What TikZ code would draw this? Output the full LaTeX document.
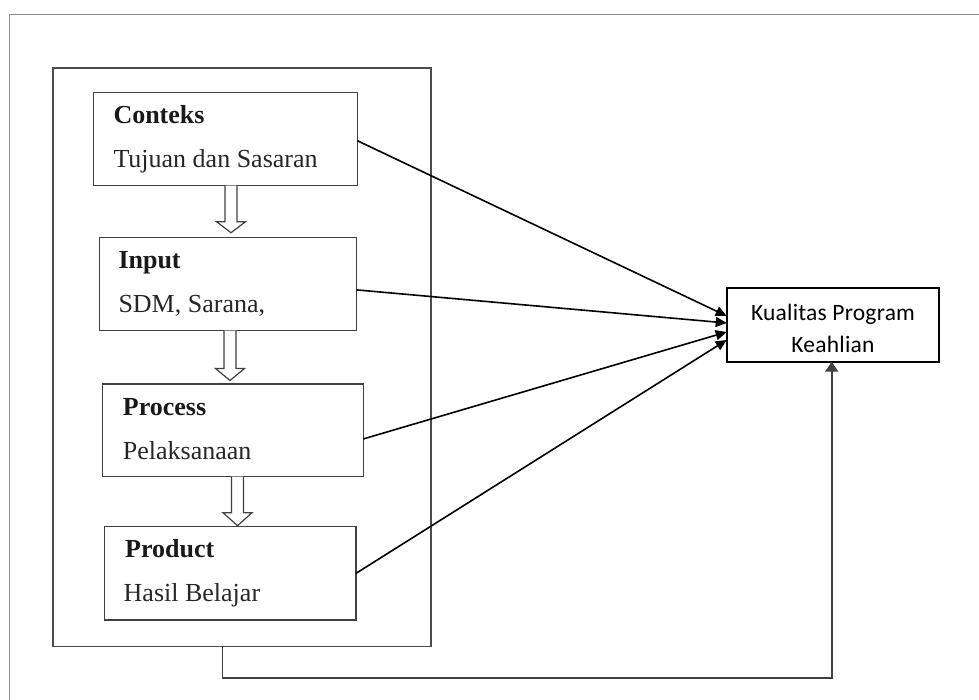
\documentclass[tikz,border=0pt]{standalone}
\usepackage{fontspec}
\setmainfont{Liberation Serif}
\newfontfamily\carlito{Carlito}[LetterSpace=1]
\usetikzlibrary{arrows.meta,calc}
\begin{document}
\begin{tikzpicture}[x=1pt,y=-1pt,
  frame/.style={draw=black!45, line width=1.3pt},
  bigbox/.style={draw=black!70, line width=1.6pt, rectangle, inner sep=0pt, outer sep=0pt, anchor=north west},
  stagebox/.style={draw=black!75, line width=1.5pt, rectangle, inner sep=0pt, outer sep=0pt, anchor=north west},
  kbox/.style={draw=black, line width=1.8pt, rectangle, inner sep=0pt, outer sep=0pt, anchor=north west},
  klabel/.style={inner sep=0pt, align=center, font=\carlito\fontsize{23.5}{32}\selectfont},
  ttl/.style={anchor=base west, inner sep=0pt, text=black!90, font=\fontsize{26}{30}\selectfont\bfseries},
  sub/.style={anchor=base west, inner sep=0pt, text=black!85, font=\fontsize{26}{30}\selectfont},
  hollow/.style={draw=black!75, line width=1.2pt, fill=white, line join=miter},
  conn/.style={draw=black, line width=1.6pt, -{Triangle[length=11pt,width=10pt]}},
  fb/.style={draw=black!75, line width=1.6pt, -{Triangle[length=10pt,width=13pt]}}
]
\useasboundingbox (0,0) rectangle (979,700);
% outer frame (partly outside the picture)
\draw[frame] (979,14.5) -- (9.3,14.5) -- (9.3,700);

% big box
\node[bigbox, minimum width=378.3pt, minimum height=578.2pt] (big) at (52.7,68.3) {};

% stage boxes
\node[stagebox, minimum width=264pt, minimum height=93.4pt] (con) at (93.3,92.3) {};
\node[stagebox, minimum width=257.4pt, minimum height=93.2pt] (inp) at (99.3,237.3) {};
\node[stagebox, minimum width=260.6pt, minimum height=92.7pt] (pro) at (102.7,384) {};
\node[stagebox, minimum width=251.5pt, minimum height=93.3pt] (prd) at (104.5,526.7) {};

% texts
\node[ttl] (conT) at ([xshift=20pt,yshift=-31pt]con.north west) {Conteks};
\node[sub] (conS) at ([xshift=20pt,yshift=-75pt]con.north west) {Tujuan dan Sasaran};
\node[ttl] (inpT) at ([xshift=19pt,yshift=-31pt]inp.north west) {Input};
\node[sub] (inpS) at ([xshift=19pt,yshift=-75pt]inp.north west) {SDM, Sarana,};
\node[ttl] (proT) at ([xshift=20pt,yshift=-31pt]pro.north west) {Process};
\node[sub] (proS) at ([xshift=20pt,yshift=-75pt]pro.north west) {Pelaksanaan};
\node[ttl] (prdT) at ([xshift=20.5pt,yshift=-31pt]prd.north west) {Product};
\node[sub] (prdS) at ([xshift=19pt,yshift=-75pt]prd.north west) {Hasil Belajar};

% result box
\node[kbox, minimum width=212.6pt, minimum height=73.4pt] (kual) at (726.7,288.3) {};
\node[klabel] (kualT) at ([yshift=-3pt]kual.center) {Kualitas Program\\Keahlian};

% hollow arrows between stages
\draw[hollow] ([xshift=5.7pt]con.south) ++(-6,0) -- ++(0,36) -- ++(-8.5,0) -- ++(14.5,11) -- ++(14.5,-11) -- ++(-8.5,0) -- ++(0,-36);
\draw[hollow] ([xshift=2pt]inp.south) ++(-6,0) -- ++(0,38) -- ++(-8.5,0) -- ++(14.5,12) -- ++(14.5,-12) -- ++(-8.5,0) -- ++(0,-38);
\draw[hollow] ([xshift=4.5pt]pro.south) ++(-6,0) -- ++(0,36) -- ++(-8.5,0) -- ++(14.5,13) -- ++(14.5,-13) -- ++(-8.5,0) -- ++(0,-36);

% connectors to result
\draw[conn] ([yshift=-1.7pt]con.east) -- ([yshift=9pt]kual.west);
\draw[conn] ([yshift=-6pt]inp.east) -- ([yshift=2pt]kual.west);
\draw[conn] ([yshift=-8.6pt]pro.east) -- ([yshift=-7pt]kual.west);
\draw[conn] (prd.east) -- ([yshift=-15pt]kual.west);

% feedback
\draw[fb] ([xshift=-19.4pt]big.south) -- ++(0,31.5) -| ([xshift=-1.3pt]kual.south);
\end{tikzpicture}
\end{document}
